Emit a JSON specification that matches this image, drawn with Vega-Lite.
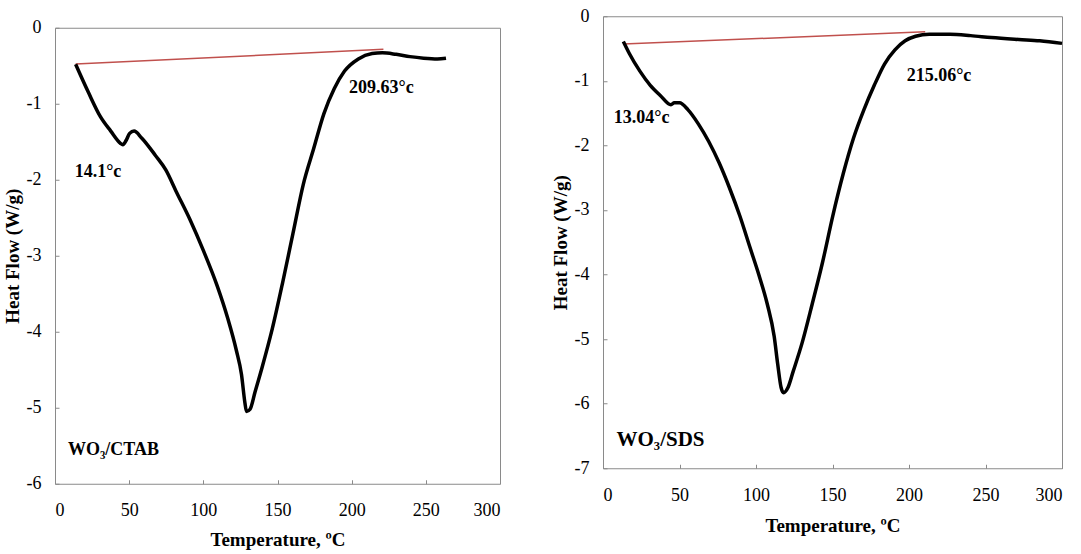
{
  "$schema": "https://vega.github.io/schema/vega-lite/v6.json",
  "padding": {"left": 2, "top": 6, "right": 2, "bottom": 2},
  "background": "white",
  "config": {
    "font": "Liberation Serif",
    "view": {"stroke": "#8a8a8a", "strokeWidth": 1},
    "axis": {
      "grid": false,
      "domain": false,
      "tickColor": "#8a8a8a",
      "tickSize": -4,
      "labelFont": "Liberation Serif",
      "labelFontSize": 18,
      "labelColor": "#000000",
      "labelExpr": "'' + datum.value",
      "titleFont": "Liberation Serif",
      "titleFontSize": 19,
      "titleFontWeight": "bold",
      "titleColor": "#000000"
    }
  },
  "datasets": {
    "ctab": [
      {"t": 13.9, "hf": -0.48}, {"t": 22.5, "hf": -0.85}, {"t": 30.6, "hf": -1.17},
      {"t": 37.6, "hf": -1.36}, {"t": 44.1, "hf": -1.52}, {"t": 45.7, "hf": -1.54},
      {"t": 48.0, "hf": -1.48}, {"t": 50.3, "hf": -1.39}, {"t": 53.3, "hf": -1.36},
      {"t": 58.4, "hf": -1.45}, {"t": 67.7, "hf": -1.68}, {"t": 74.7, "hf": -1.87},
      {"t": 81.6, "hf": -2.15}, {"t": 90.9, "hf": -2.52}, {"t": 100.2, "hf": -2.94},
      {"t": 109.4, "hf": -3.40}, {"t": 116.4, "hf": -3.82}, {"t": 122.2, "hf": -4.24},
      {"t": 125.7, "hf": -4.56}, {"t": 128.0, "hf": -4.93}, {"t": 129.1, "hf": -5.05},
      {"t": 131.5, "hf": -5.02}, {"t": 134.9, "hf": -4.79}, {"t": 139.6, "hf": -4.47},
      {"t": 146.5, "hf": -3.96}, {"t": 153.5, "hf": -3.35}, {"t": 160.4, "hf": -2.71},
      {"t": 167.4, "hf": -2.06}, {"t": 174.4, "hf": -1.59}, {"t": 181.3, "hf": -1.13},
      {"t": 188.3, "hf": -0.80}, {"t": 195.2, "hf": -0.57}, {"t": 204.5, "hf": -0.41},
      {"t": 213.8, "hf": -0.34}, {"t": 220.7, "hf": -0.33}, {"t": 230.0, "hf": -0.35},
      {"t": 239.3, "hf": -0.38}, {"t": 248.5, "hf": -0.40}, {"t": 257.8, "hf": -0.41},
      {"t": 263.6, "hf": -0.40}
    ],
    "ctab_base": [{"t": 13.9, "hf": -0.478}, {"t": 221.4, "hf": -0.283}],
    "ctab_temp": [
      {"t": 29, "hf": -1.9, "label": "14.1°c"},
      {"t": 220, "hf": -0.79, "label": "209.63°c"}
    ],
    "ctab_name": [{"t": 39.4, "hf": -5.55, "label": "WO₃/CTAB"}],
    "sds": [
      {"t": 13.3, "hf": -0.39}, {"t": 17.3, "hf": -0.58}, {"t": 24.1, "hf": -0.85},
      {"t": 30.9, "hf": -1.07}, {"t": 37.6, "hf": -1.23}, {"t": 44.4, "hf": -1.37},
      {"t": 46.6, "hf": -1.34}, {"t": 50.0, "hf": -1.34}, {"t": 55.6, "hf": -1.45},
      {"t": 62.4, "hf": -1.67}, {"t": 69.1, "hf": -1.94}, {"t": 75.9, "hf": -2.27},
      {"t": 82.7, "hf": -2.66}, {"t": 89.4, "hf": -3.09}, {"t": 96.2, "hf": -3.59},
      {"t": 101.8, "hf": -4.00}, {"t": 107.4, "hf": -4.46}, {"t": 111.9, "hf": -4.96},
      {"t": 114.2, "hf": -5.39}, {"t": 116.4, "hf": -5.75}, {"t": 118.0, "hf": -5.83},
      {"t": 120.9, "hf": -5.75}, {"t": 124.3, "hf": -5.50}, {"t": 130.0, "hf": -5.07},
      {"t": 136.7, "hf": -4.46}, {"t": 143.5, "hf": -3.81}, {"t": 150.2, "hf": -3.09},
      {"t": 157.0, "hf": -2.44}, {"t": 163.7, "hf": -1.89}, {"t": 170.5, "hf": -1.45},
      {"t": 177.3, "hf": -1.07}, {"t": 184.0, "hf": -0.74}, {"t": 190.8, "hf": -0.52},
      {"t": 197.5, "hf": -0.38}, {"t": 204.3, "hf": -0.31}, {"t": 213.3, "hf": -0.28},
      {"t": 226.8, "hf": -0.28}, {"t": 240.3, "hf": -0.30}, {"t": 253.8, "hf": -0.33},
      {"t": 271.8, "hf": -0.36}, {"t": 285.4, "hf": -0.38}, {"t": 300.0, "hf": -0.42}
    ],
    "sds_base": [{"t": 13.3, "hf": -0.43}, {"t": 210.6, "hf": -0.24}],
    "sds_temp": [
      {"t": 25.2, "hf": -1.58, "label": "13.04°c"},
      {"t": 219.6, "hf": -0.92, "label": "215.06°c"}
    ],
    "sds_name": [{"t": 37.6, "hf": -6.57, "label": "WO₃/SDS"}]
  },
  "spacing": 49,
  "center": true,
  "hconcat": [
    {
      "width": 445,
      "height": 456,
      "encoding": {
        "x": {"field": "t", "type": "quantitative", "scale": {"domain": [0, 300], "nice": false},
              "axis": {"title": "Temperature, ºC", "values": [0, 50, 100, 150, 200, 250, 300], "labelPadding": 22, "titlePadding": 11}},
        "y": {"field": "hf", "type": "quantitative", "scale": {"domain": [-6, 0], "nice": false},
              "axis": {"title": "Heat Flow (W/g)", "values": [-6, -5, -4, -3, -2, -1, 0], "labelPadding": 18, "titlePadding": 4}}
      },
      "layer": [
        {"data": {"name": "ctab_base"}, "mark": {"type": "line", "color": "#c0504d", "strokeWidth": 1.5}},
        {"data": {"name": "ctab"}, "mark": {"type": "line", "color": "#000000", "strokeWidth": 3.5, "interpolate": "monotone"}},
        {"data": {"name": "ctab_temp"}, "mark": {"type": "text", "fontWeight": "bold", "fontSize": 18, "color": "#000000"},
         "encoding": {"text": {"field": "label"}}},
        {"data": {"name": "ctab_name"}, "mark": {"type": "text", "fontWeight": "bold", "fontSize": 18, "color": "#000000"},
         "encoding": {"text": {"field": "label"}}}
      ]
    },
    {
      "width": 459,
      "height": 452,
      "encoding": {
        "x": {"field": "t", "type": "quantitative", "scale": {"domain": [0, 300], "nice": false},
              "axis": {"title": ["Temperature, ºC", ""], "titleLineHeight": 26, "values": [0, 50, 100, 150, 200, 250, 300], "labelPadding": 22, "titlePadding": 12}},
        "y": {"field": "hf", "type": "quantitative", "scale": {"domain": [-7, 0], "nice": false},
              "axis": {"title": "Heat Flow (W/g)", "values": [-7, -6, -5, -4, -3, -2, -1, 0], "labelPadding": 18, "titlePadding": 4}}
      },
      "layer": [
        {"data": {"name": "sds_base"}, "mark": {"type": "line", "color": "#c0504d", "strokeWidth": 1.5}},
        {"data": {"name": "sds"}, "mark": {"type": "line", "color": "#000000", "strokeWidth": 3.5, "interpolate": "monotone"}},
        {"data": {"name": "sds_temp"}, "mark": {"type": "text", "fontWeight": "bold", "fontSize": 18, "color": "#000000"},
         "encoding": {"text": {"field": "label"}}},
        {"data": {"name": "sds_name"}, "mark": {"type": "text", "fontWeight": "bold", "fontSize": 21, "color": "#000000"},
         "encoding": {"text": {"field": "label"}}}
      ]
    }
  ]
}
